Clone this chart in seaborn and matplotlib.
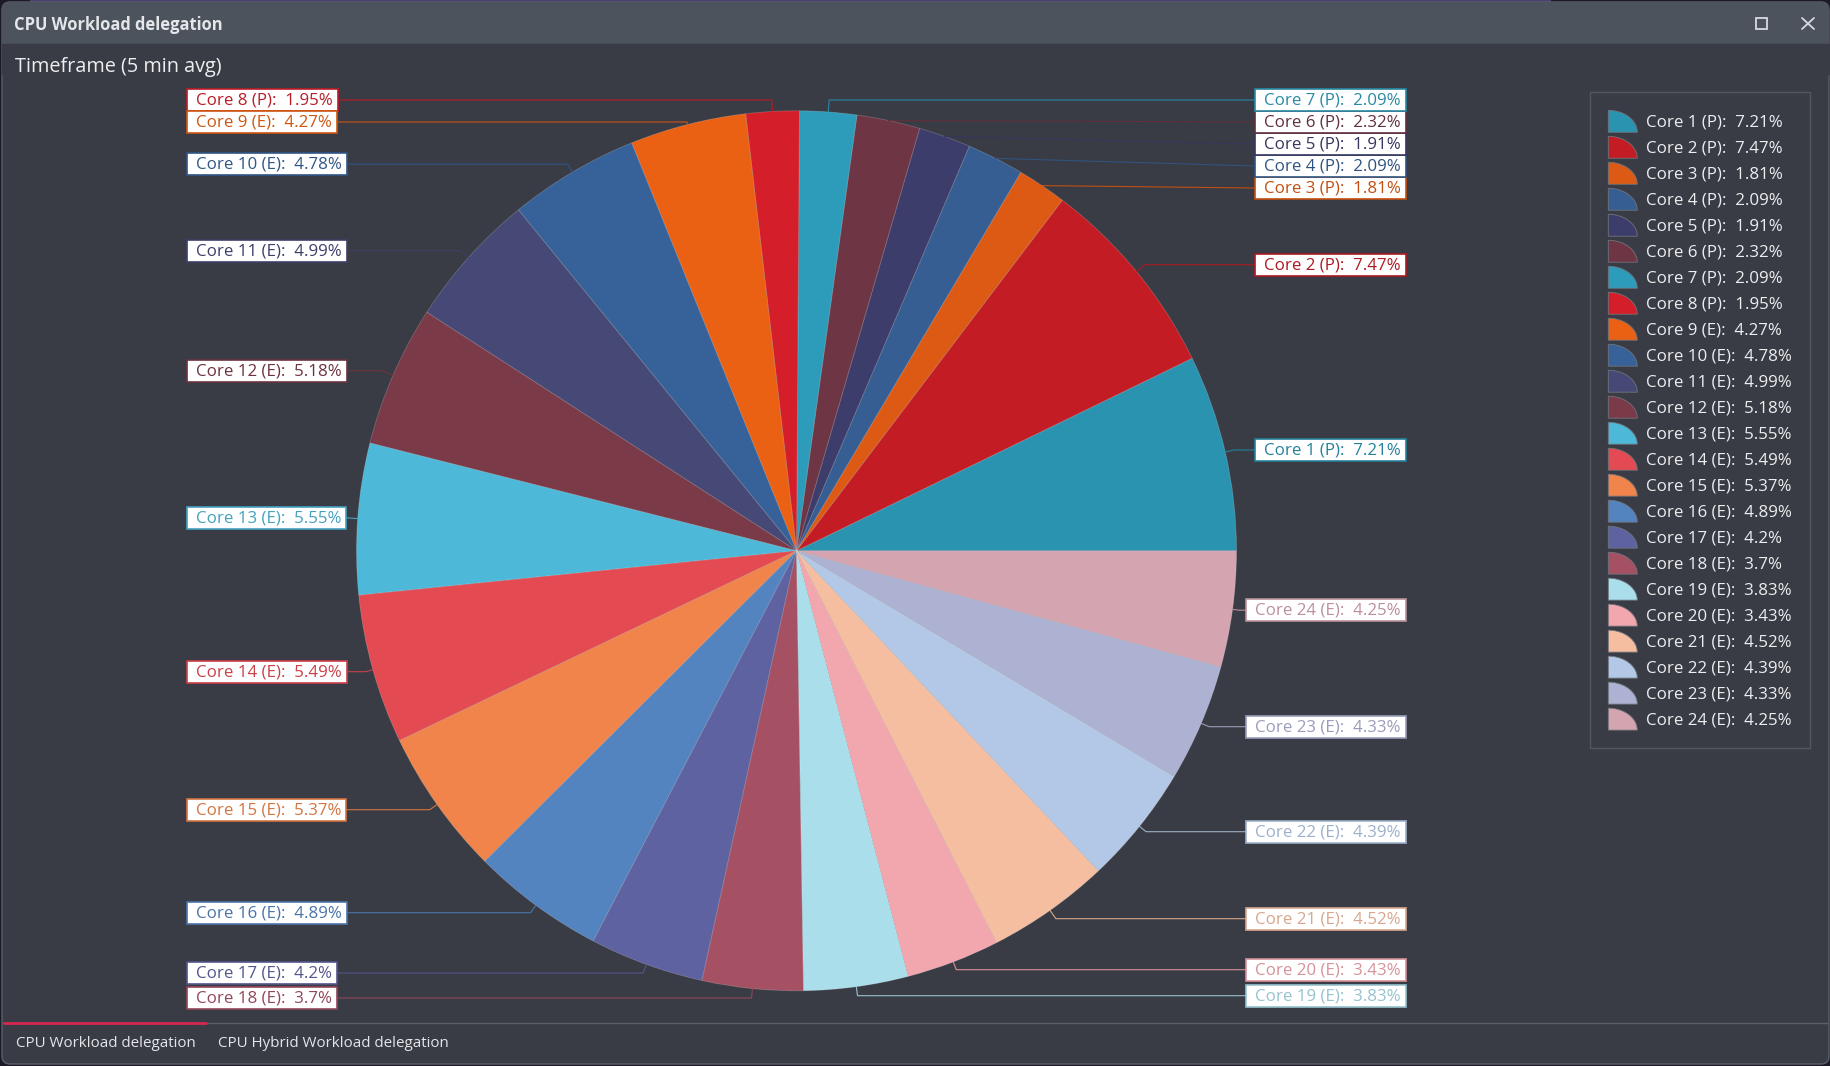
import numpy as np
import matplotlib
matplotlib.use('Agg')
import matplotlib.pyplot as plt
from matplotlib.legend_handler import HandlerPatch
from matplotlib.patches import Polygon, Rectangle, FancyBboxPatch
import seaborn as sns

core_names = ['Core 1 (P)', 'Core 2 (P)', 'Core 3 (P)', 'Core 4 (P)', 'Core 5 (P)', 'Core 6 (P)',
              'Core 7 (P)', 'Core 8 (P)', 'Core 9 (E)', 'Core 10 (E)', 'Core 11 (E)', 'Core 12 (E)',
              'Core 13 (E)', 'Core 14 (E)', 'Core 15 (E)', 'Core 16 (E)', 'Core 17 (E)', 'Core 18 (E)',
              'Core 19 (E)', 'Core 20 (E)', 'Core 21 (E)', 'Core 22 (E)', 'Core 23 (E)', 'Core 24 (E)']
workload = [7.21, 7.47, 1.81, 2.09, 1.91, 2.32, 2.09, 1.95, 4.27, 4.78, 4.99, 5.18,
            5.55, 5.49, 5.37, 4.89, 4.2, 3.7, 3.83, 3.43, 4.52, 4.39, 4.33, 4.25]
slice_colors = ['#2a93b0', '#c41c24', '#dc5a13', '#365e92', '#3d3d6b', '#6e3545',
                '#2d9cba', '#d41f2a', '#ea6113', '#376299', '#464876', '#7a3a48',
                '#4db8d8', '#e44a52', '#f0844a', '#5484c0', '#5e62a0', '#a65064',
                '#aadeeb', '#f2a6ae', '#f5bea0', '#b2c8e6', '#aeb2d2', '#d4a4b0']

# label rows in screen pixels, same order as the cores
label_y = [450, 264.7, 188, 166, 144, 122, 100, 100, 122, 164.2, 250.7, 370.7,
           517.7, 671.7, 809.7, 912.7, 973, 998, 995.7, 969.7, 918.7, 831.7, 726.7, 610.2]

W, H = 1831, 1066
BG = '#393c44'
CX, CY, R = 796.5, 550.8, 440

sns.set_theme(style='dark', rc={'figure.facecolor': BG, 'axes.facecolor': BG, 'savefig.facecolor': BG})
plt.rcParams['font.family'] = ['Open Sans', 'DejaVu Sans']
palette = sns.color_palette(slice_colors)

fig = plt.figure(figsize=(W / 100, H / 100), dpi=100)

# window chrome, drawn in pixels
bg = fig.add_axes([0, 0, 1, 1], zorder=0)
bg.set_xlim(0, W)
bg.set_ylim(H, 0)
bg.axis('off')
bg.add_patch(Rectangle((0, 0), W, H, color='#1c1a26', zorder=0))
bg.add_patch(Rectangle((30, 0), 1520, 3, color='#4a4170', zorder=0.5))
bg.add_patch(FancyBboxPatch((2, 2), W - 4, H - 4, boxstyle='round,pad=0,rounding_size=8',
                            fc=BG, ec='#5b5f67', lw=1, zorder=1))
bg.add_patch(FancyBboxPatch((2, 2), W - 4, 60, boxstyle='round,pad=0,rounding_size=8',
                            fc='#4c535c', ec='none', zorder=1.1))
bg.add_patch(Rectangle((2, 44), W - 4, 30, color=BG, zorder=1.2))
bg.plot([3, W - 3], [1023, 1023], color='#5b5f67', lw=1, zorder=2)
bg.plot([4, 206], [1023, 1023], color='#d62750', lw=2, zorder=2.1)
bg.add_patch(Rectangle((1756, 18), 11, 11, fc='none', ec='#d8dade', lw=1.3, zorder=2))
bg.plot([1802, 1814], [18, 29], color='#d8dade', lw=1.3, zorder=2)
bg.plot([1802, 1814], [29, 18], color='#d8dade', lw=1.3, zorder=2)

bg.text(14, 24.5, 'CPU Workload delegation', color='#e4e6ea', fontsize=11.9, fontweight='bold', va='center', zorder=3)
bg.text(15, 67, 'Timeframe (5 min avg)', color='#eceef0', fontsize=14.3, va='center', zorder=3)
bg.text(16, 1043.5, 'CPU Workload delegation', color='#e4e6ea', fontsize=10.9, va='center', zorder=3)
bg.text(218, 1043.5, 'CPU Hybrid Workload delegation', color='#e4e6ea', fontsize=10.9, va='center', zorder=3)

# pie
ax = fig.add_axes([(CX - R) / W, 1 - (CY + R) / H, 2 * R / W, 2 * R / H], zorder=1)
wedges, _ = ax.pie(workload, colors=palette, startangle=0, counterclock=True, radius=1,
                   wedgeprops={'linewidth': 0.6, 'edgecolor': (1, 1, 1, 0.2)})
ax.set_xlim(-1, 1)
ax.set_ylim(-1, 1)


class QuarterPieHandler(HandlerPatch):
    def create_artists(self, legend, orig_handle, xdescent, ydescent, width, height, fontsize, trans):
        h = 15.8
        y0 = -ydescent + height / 2 - h / 2
        t = np.linspace(0, np.pi / 2, 24)
        pts = [(-xdescent, y0)] + [(-xdescent + width * np.cos(a), y0 + h * np.sin(a)) for a in t]
        p = Polygon(pts, closed=True, fc=orig_handle.get_facecolor(), ec='#70747c', lw=0.6)
        p.set_transform(trans)
        return [p]


legend_labels = [f'{n}:  {v:g}%' for n, v in zip(core_names, workload)]
leg = ax.legend(wedges, legend_labels, handler_map={w: QuarterPieHandler() for w in wedges},
                loc='upper left', bbox_to_anchor=(1590 / W, 1 - 92 / H), bbox_transform=fig.transFigure,
                borderaxespad=0, fontsize=12.2, handlelength=1.71, handleheight=1.62, labelspacing=0.236,
                handletextpad=0.52, borderpad=1.08, frameon=True, fancybox=False, facecolor=BG,
                edgecolor='#5b5f67', labelcolor='#eceef0')
leg.get_frame().set_linewidth(1)

# callout boxes and leader lines, anchored on each slice's mid angle
top = fig.add_axes([0, 0, 1, 1], zorder=2)
top.set_xlim(0, W)
top.set_ylim(H, 0)
top.axis('off')
top.patch.set_alpha(0)
renderer = fig.canvas.get_renderer()
mids = (np.cumsum(workload) - np.array(workload) / 2) / np.sum(workload) * 2 * np.pi

for name, val, col, y, a in zip(core_names, workload, palette, label_y, mids):
    ex, ey = CX + R * np.cos(a), CY - R * np.sin(a)
    right = np.cos(a) > 0
    line_col = tuple(c * 0.88 for c in col)
    if right:
        t = top.text(1401, y + 0.5, f'{name}:  {val:g}%', color=line_col, fontsize=12.2, ha='right', va='center', zorder=5)
    else:
        t = top.text(196, y + 0.5, f'{name}:  {val:g}%', color=line_col, fontsize=12.2, ha='left', va='center', zorder=5)
    ext = t.get_window_extent(renderer)
    if right:
        x0, x1 = ext.x0 - 9, 1406
        edge = x0
    else:
        x0, x1 = 187, ext.x1 + 5
        edge = x1
    top.add_patch(Rectangle((x0, y - 11), x1 - x0, 22, fc='white', ec=line_col, lw=1.2, zorder=4))
    # extend along the radius up to the label row, or run straight if the row is inside the pie
    depth = (ey - y) / np.sin(a)
    if depth > 0:
        xs, ys = [ex, ex + depth * np.cos(a), edge], [ey, y, y]
    else:
        xs, ys = [ex, edge], [ey, y]
    top.plot(xs, ys, color=line_col, lw=0.8, zorder=3)

fig.savefig('out.png', dpi=100)
